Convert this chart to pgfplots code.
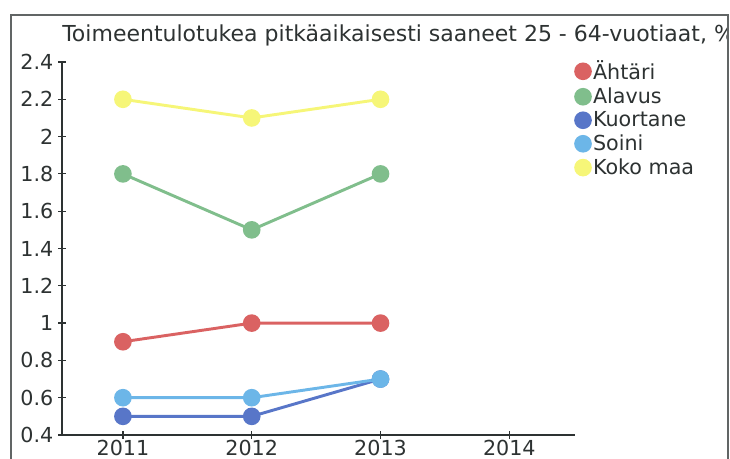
\documentclass[border=0pt]{standalone}
\usepackage{pgfplots}
\pgfplotsset{compat=1.18}
\usepackage{fontspec}
\setmainfont{DejaVu Sans}
\definecolor{cRed}{RGB}{218,98,98}
\definecolor{cGreen}{RGB}{128,190,140}
\definecolor{cBlue}{RGB}{88,118,200}
\definecolor{cLight}{RGB}{108,182,232}
\definecolor{cYellow}{RGB}{246,246,120}
\definecolor{txt}{RGB}{45,50,50}
\begin{document}
\begin{tikzpicture}[x=0.75pt,y=0.75pt]
\useasboundingbox (0,0) rectangle (730,459);
\begin{scope}
\clip (0,0) rectangle (727,459);
\node[anchor=base west, inner sep=0pt, text=txt, font=\fontsize{16.5}{19}\selectfont] at (62,417) {Toimeentulotukea pitkäaikaisesti saaneet 25 - 64-vuotiaat, \%};
\end{scope}
\begin{scope}
\clip (0,0) rectangle (730,459);
\draw[line width=1.2pt, color=txt!75] (11,-10) -- (11,444) -- (728,444) -- (728,-10);
\end{scope}
\begin{axis}[
  at={(46.5pt,18pt)}, anchor=south west,
  scale only axis, width=384.75pt, height=279.75pt,
  xmin=2010.527, xmax=2014.51, ymin=0.4, ymax=2.4,
  axis lines*=left,
  axis line style={txt, line width=0.9pt},
  tick style={txt, line width=0.9pt},
  tick align=center, major tick length=6pt,
  xtick={2011,2012,2013,2014},
  ytick={0.4,0.6,0.8,1,1.2,1.4,1.6,1.8,2,2.2,2.4},
  yticklabels={0.4,0.6,0.8,1,1.2,1.4,1.6,1.8,2,2.2,2.4},
  xticklabels={2011,2012,2013,2014},
  tick label style={font=\fontsize{15.5}{18}\selectfont, text=txt},
  xticklabel style={yshift=2.5pt},
  /pgf/number format/assume math mode=true,
  clip=false,
  legend style={draw=none, fill=none, at={(0.993,1.018)}, anchor=north west,
    font=\fontsize{15.5}{18}\selectfont, text=txt, row sep=0.6pt},
  legend image post style={xshift=-3.5pt},
  legend cell align=left,
  every axis plot/.append style={line width=2.2pt, mark=*, mark size=5.5pt},
]
\addplot[cRed, forget plot] coordinates {(2011,0.9)(2012,1.0)(2013,1.0)};
\addplot[cGreen, forget plot] coordinates {(2011,1.8)(2012,1.5)(2013,1.8)};
\addplot[cBlue, forget plot] coordinates {(2011,0.5)(2012,0.5)(2013,0.7)};
\addplot[cLight, forget plot] coordinates {(2011,0.6)(2012,0.6)(2013,0.7)};
\addplot[cYellow, forget plot] coordinates {(2011,2.2)(2012,2.1)(2013,2.2)};
\addlegendimage{only marks, mark=*, mark size=5.5pt, cRed}
\addlegendentry{Ähtäri}
\addlegendimage{only marks, mark=*, mark size=5.5pt, cGreen}
\addlegendentry{Alavus}
\addlegendimage{only marks, mark=*, mark size=5.5pt, cBlue}
\addlegendentry{Kuortane}
\addlegendimage{only marks, mark=*, mark size=5.5pt, cLight}
\addlegendentry{Soini}
\addlegendimage{only marks, mark=*, mark size=5.5pt, cYellow}
\addlegendentry{Koko maa}
\end{axis}
\end{tikzpicture}
\end{document}
